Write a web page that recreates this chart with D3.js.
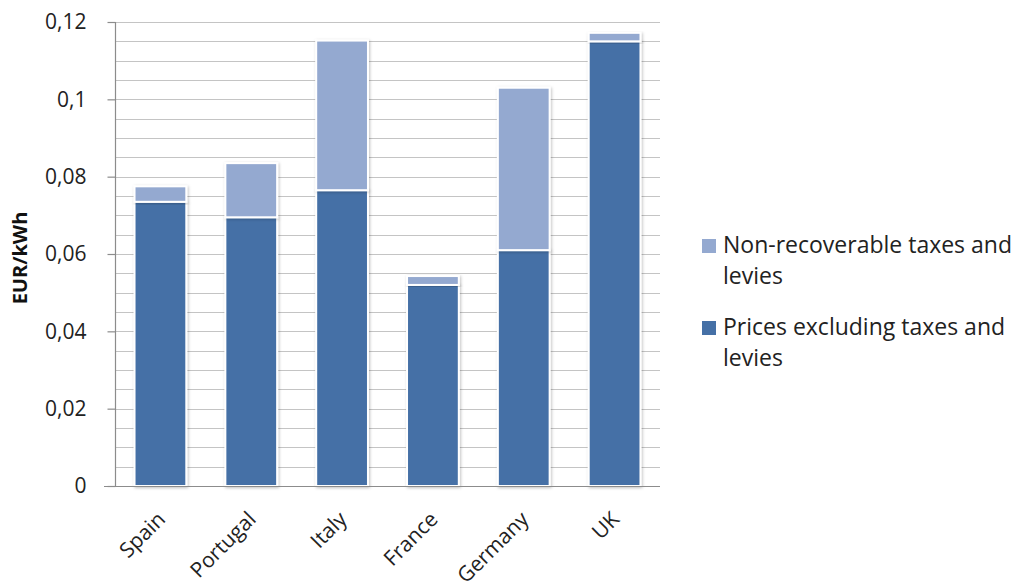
<!DOCTYPE html>
<html>
<head>
<meta charset="utf-8">
<script src="https://cdn.jsdelivr.net/npm/d3@7"></script>
<style>
  html, body { margin: 0; padding: 0; background: #fff; }
  svg { display: block; font-family: "Open Sans", Lato, sans-serif; }
</style>
</head>
<body>
<svg id="chart" width="1017" height="588"></svg>
<script>
// Electricity prices by country, EUR/kWh
const countries = ["Spain", "Portugal", "Italy", "France", "Germany", "UK"];
const pricesExclTaxes = [0.0735, 0.0695, 0.0765, 0.052, 0.061, 0.115];
const nonRecoverableTaxes = [0.004, 0.014, 0.0387, 0.0023, 0.042, 0.0022];
const yTicks = [0, 0.02, 0.04, 0.06, 0.08, 0.1, 0.12];
const seriesNames = ["Non-recoverable taxes and levies", "Prices excluding taxes and levies"];
const colors = { base: "#4570A6", tax: "#94A9D0" };
const FONT = "'Open Sans', Lato, sans-serif";

const svg = d3.select("#chart");
const margin = { left: 115, right: 357, top: 22, bottom: 102 };
const W = 1017, H = 588;

const x = d3.scaleBand().domain(countries)
  .range([margin.left, W - margin.right]).paddingInner(0.43).paddingOuter(0.215);
const y = d3.scaleLinear().domain([0, 0.12]).range([H - margin.bottom, margin.top]);

const defs = svg.append("defs");
const f = defs.append("filter").attr("id", "shadow").attr("x", "-20%").attr("y", "-20%").attr("width", "140%").attr("height", "140%");
f.append("feDropShadow").attr("dx", 1).attr("dy", 1).attr("stdDeviation", 1.5).attr("flood-color", "#000").attr("flood-opacity", 0.25);

// Minor and major gridlines
const gridVals = d3.range(0, 0.1201, 0.005);
svg.append("g").selectAll("line").data(gridVals.filter(v => v > 0)).join("line")
  .attr("x1", margin.left).attr("x2", W - margin.right)
  .attr("y1", d => Math.round(y(d)) + 0.5).attr("y2", d => Math.round(y(d)) + 0.5)
  .attr("stroke", "#c4c4c4").attr("stroke-width", 1.2);

// Y axis
const yAxis = d3.axisLeft(y).tickValues(yTicks).tickSize(8).tickPadding(21)
  .tickFormat(d => d === 0 ? "0" : d3.format(".2~f")(d).replace(".", ","));
const gy = svg.append("g").attr("transform", `translate(${margin.left + 0.5},0)`).call(yAxis)
  .attr("font-family", FONT);
gy.select(".domain").attr("stroke", "#8c8c8c").attr("stroke-width", 1.2)
  .attr("d", `M0,${y(0.12)}V${y(0)}`);
gy.selectAll(".tick line").attr("stroke", "#8c8c8c").attr("stroke-width", 1.2);
gy.selectAll(".tick text").attr("font-size", 21).attr("fill", "#222");

// Stacked bars
const stackData = countries.map((c, i) => ({ country: c, base: pricesExclTaxes[i], tax: nonRecoverableTaxes[i] }));
const stacked = d3.stack().keys(["base", "tax"])(stackData);
svg.append("g").selectAll("g").data(stacked).join("g")
  .attr("fill", d => colors[d.key])
  .selectAll("rect").data(d => d).join("rect")
  .attr("x", d => x(d.data.country))
  .attr("width", x.bandwidth())
  .attr("y", d => y(d[1]))
  .attr("height", d => y(d[0]) - y(d[1]))
  .attr("stroke", "#fff").attr("stroke-width", 2)
  .attr("filter", "url(#shadow)");

// X axis
const xAxis = d3.axisBottom(x).tickSize(0).tickPadding(14);
const gx = svg.append("g").attr("transform", `translate(0,${y(0) + 0.5})`).call(xAxis)
  .attr("font-family", FONT);
gx.select(".domain").attr("stroke", "#8c8c8c").attr("stroke-width", 1.2)
  .attr("d", `M${margin.left - 11},0H${W - margin.right}`);
gx.selectAll(".tick text")
  .attr("font-size", 21).attr("fill", "#222")
  .attr("text-anchor", "end")
  .attr("dy", "0.35em")
  .attr("transform", "translate(-9,19) rotate(-45)");

// Y axis title
svg.append("text")
  .attr("transform", `translate(27,${(y(0) + y(0.12)) / 2 + 4}) rotate(-90)`)
  .attr("text-anchor", "middle")
  .attr("font-size", 20).attr("font-weight", "bold").attr("fill", "#111")
  .text("EUR/kWh");

// Legend
const legend = svg.append("g").attr("transform", "translate(702,0)");
const legendItems = [
  { name: seriesNames[0], color: colors.tax, y: 246 },
  { name: seriesNames[1], color: colors.base, y: 328 }
];
legendItems.forEach(it => {
  legend.append("rect").attr("x", 0).attr("y", it.y - 7).attr("width", 14).attr("height", 14)
    .attr("fill", it.color);
  const words = it.name.split(" ");
  const line1 = words.slice(0, -1).join(" ");
  const line2 = words[words.length - 1];
  const t = legend.append("text").attr("font-size", 23).attr("fill", "#222");
  t.append("tspan").attr("x", 21).attr("y", it.y + 7).text(line1);
  t.append("tspan").attr("x", 21).attr("y", it.y + 38).text(line2);
});
</script>
</body>
</html>
